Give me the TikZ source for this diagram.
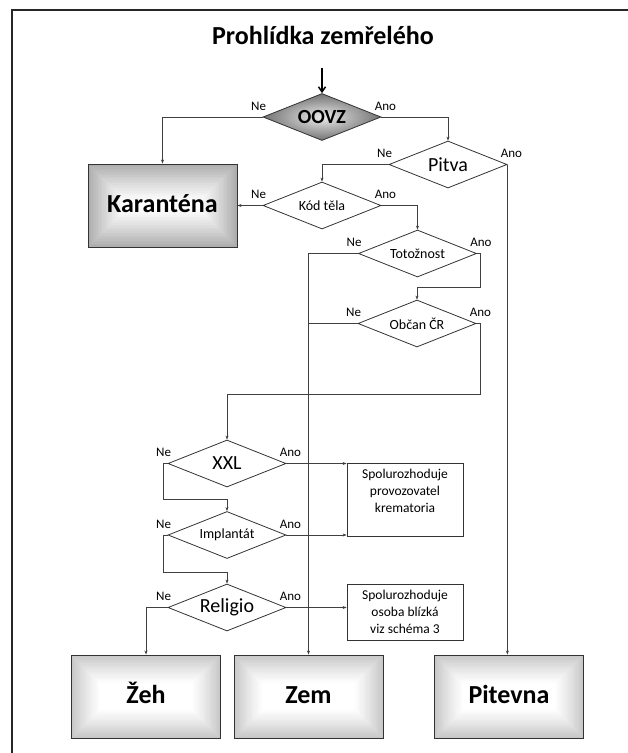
\documentclass[tikz,border=0pt]{standalone}
\usepackage{fontspec}
\setmainfont{Carlito}
\usetikzlibrary{shapes.geometric,arrows.meta,calc}

\begin{document}
\begin{tikzpicture}[x=1pt,y=-1pt]

        % Styles
        \tikzstyle{decision}=[diamond,aspect=2.5,draw=black!80,line width=0.8pt,inner sep=0pt,minimum width=118pt,minimum height=47pt,font=\fontsize{14}{16}\selectfont]
        \tikzstyle{big}=[font=\fontsize{20}{24}\selectfont]
        \tikzstyle{result}=[rectangle,draw=black!80,line width=0.9pt,minimum width=149pt,minimum height=83pt,text height=18pt,text depth=5pt,font=\fontsize{26}{30}\selectfont\bfseries]
        \tikzstyle{note}=[rectangle,draw=black!80,line width=0.8pt,minimum width=116pt,align=center,font=\fontsize{13.5}{17}\selectfont]
        \tikzstyle{flow}=[line width=0.8pt,draw=black!75,-{Stealth[length=4pt,width=3pt]}]
        \tikzstyle{answer}=[font=\fontsize{13}{15}\selectfont]
        \tikzset{glow/.style 2 args={path picture={
            \foreach \k [evaluate=\k as \g using #1*(1-\k/24)^1.2] in {0,...,24}
                \fill[black!\g] ($(path picture bounding box.north west)+(\k*#2,\k*#2)$)
                    rectangle ($(path picture bounding box.south east)-(\k*#2,\k*#2)$);}}}
        \useasboundingbox (0,0) rectangle (628,753);
        %frame
        \draw[line width=1.2pt,black!85] (12,753) -- (12,10) -- (628,10);
        \node[font=\fontsize{26}{30}\selectfont\bfseries] (title) at (323,35) {Prohlídka zemřelého};
        %decisions
        \coordinate (start) at (322,68);
        \node[decision,font={\fontsize{20}{24}\selectfont\bfseries},shading=radial,inner color=black!8,outer color=black!55] (oovz) at (322,117) {OOVZ};
        \node[decision,big] (pitva) at (448,164.5) {Pitva};
        \node[decision] (kod) at (322,205.5) {Kód těla};
        \node[decision] (tot) at (417.5,253.5) {Totožnost};
        \node[decision] (obcan) at (417,323.5) {Občan ČR};
        \node[decision,big] (xxl) at (227,463.5) {XXL};
        \node[decision] (impl) at (227,535) {Implantát};
        \node[decision,big] (relig) at (227,607.5) {Religio};
        %outcomes
        \node[result,glow={32}{1.6}] (karantena) at (162.5,205.5) {Karanténa};
        \node[result,glow={22}{1.2}] (zeh) at (146,696.5) {Žeh};
        \node[result,glow={22}{1.2}] (zem) at (308.5,696.5) {Zem};
        \node[result,glow={22}{1.2}] (pitevna) at (509,696.5) {Pitevna};
        \node[note,minimum height=73pt] (krem) at (405,499.5) {Spolurozhoduje\\provozovatel\\krematoria\\ \mbox{}};
        \node[note,minimum height=56pt] (osoba) at (405,612) {Spolurozhoduje\\osoba blízká\\viz schéma 3};
        %Ne / Ano
        \foreach \d in {oovz,pitva,kod,tot,obcan,xxl,impl,relig}{
            \node[answer] (ne-\d) at ($(\d.west)+(-4,-11)$) {Ne};
            \node[answer] (ano-\d) at ($(\d.east)+(4,-11)$) {Ano};
        }
        %connectors
        \coordinate (jog1) at (480,287);
        \coordinate (jog2) at (480,394);
        \coordinate (jog3) at (163,499);
        \coordinate (jog4) at (163,572);
        \draw[line width=1.5pt,black,-{Straight Barb[length=5pt,width=7pt]}] (start) -- (oovz.north);
        \draw[flow] (oovz.west) -| (karantena.north);
        \draw[flow] (oovz.east) -| (pitva.north);
        \draw[flow] (pitva.west) -| (kod.north);
        \draw[flow] (pitva.east) -- (pitva.east |- pitevna.north);
        \draw[flow] (kod.west) -- (karantena.east);
        \draw[flow] (kod.east) -| (tot.north);
        \draw[flow] (tot.west) -| (zem.north);
        \draw[line width=0.8pt,black!75] (obcan.west) -- (obcan.west -| zem.north);
        \draw[flow] (tot.east) -| (jog1) -| (obcan.north);
        \draw[flow] (obcan.east) -| (jog2) -| (xxl.north);
        \draw[flow] (xxl.east) -- (xxl.east -| krem.west);
        \draw[flow] (impl.east) -- (impl.east -| krem.west);
        \draw[flow] (relig.east) -- (relig.east -| osoba.west);
        \draw[flow] (xxl.west) -| (jog3) -| (impl.north);
        \draw[flow] (impl.west) -| (jog4) -| (relig.north);
        \draw[flow] (relig.west) -| (zeh.north);
\end{tikzpicture}
\end{document}
